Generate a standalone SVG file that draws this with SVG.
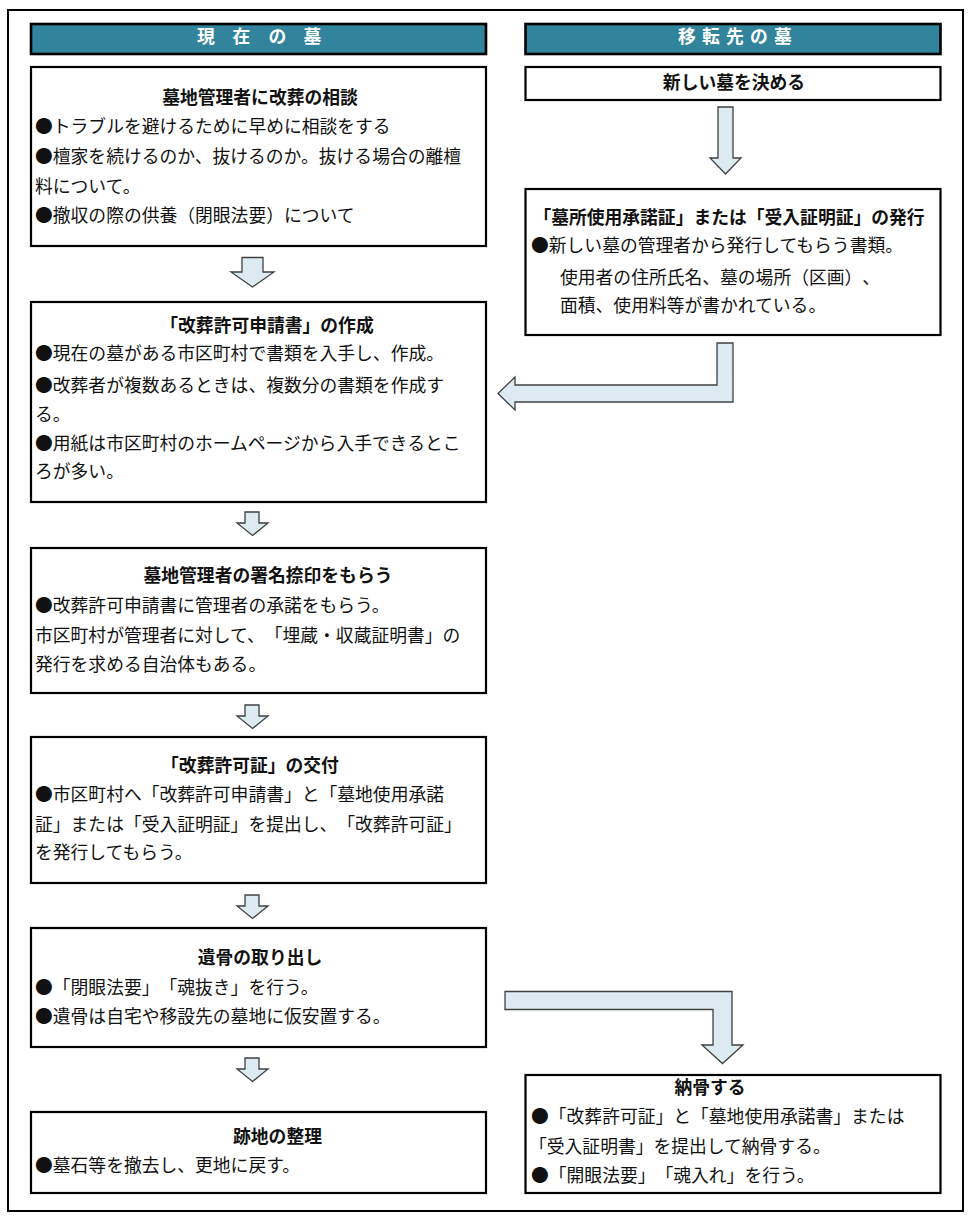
<svg xmlns="http://www.w3.org/2000/svg" width="971" height="1221" viewBox="0 0 971 1221">
<style>
text{font-family:"Noto Sans CJK JP","Noto Sans CJK SC",sans-serif;font-size:17.8px;fill:#111;text-spacing-trim:space-all}
.t{font-weight:bold;text-anchor:middle}
.h{font-weight:bold;fill:#fff;text-anchor:middle}
.box{fill:#fff;stroke:#000;stroke-width:2.2}
.hdr{fill:#31849B;stroke:#000;stroke-width:2.6}
.arr{fill:#DCEBF2;stroke:#404040;stroke-width:1.3;stroke-linejoin:miter}
</style>
<rect x="0" y="0" width="971" height="1221" fill="#fff"/>
<rect x="8" y="10" width="955" height="1201" fill="none" stroke="#000" stroke-width="2"/>

<g id="header-current">
<rect class="hdr" x="31" y="24" width="455" height="30"/>
<text class="h" x="206 241.5 277.5 312.5" y="42.5">現在の墓</text>
</g>
<g id="header-new">
<rect class="hdr" x="525.5" y="24" width="415" height="30"/>
<text class="h" x="687 711 735 759 783" y="42.5">移転先の墓</text>
</g>

<g id="connectors">
<path class="arr" d="M242,257.5 H263 V272 H274 L252.5,287 L231,272 H242 Z"/>
<path class="arr" d="M245,512 H259 V523 H268 L252.5,535.5 L237,523 H245 Z"/>
<path class="arr" d="M245,705 H259 V716 H268 L252.5,728.5 L237,716 H245 Z"/>
<path class="arr" d="M245,895 H259 V906 H268 L252.5,918.5 L237,906 H245 Z"/>
<path class="arr" d="M245,1058 H259 V1069 H268 L252.5,1081.5 L237,1069 H245 Z"/>
<path class="arr" d="M718,107 H733 V158 H741 L725.5,174 L710,158 H718 Z"/>
<path class="arr" d="M717,343 H733 V402 H515 V410 L498,393.5 L515,377 V385 H717 Z"/>
<path class="arr" d="M505,991.5 H732 V1045 H743 L722.5,1063.5 L702,1045 H713 V1009.5 H505 Z"/>
</g>

<g id="node-consult">
<rect class="box" x="31" y="67" width="455" height="179"/>
<text class="t" x="260" y="103.5">墓地管理者に改葬の相談</text>
<text x="35" y="133">●トラブルを避けるために早めに相談をする</text>
<text x="35" y="163">●檀家を続けるのか、抜けるのか。抜ける場合の離檀</text>
<text x="35" y="193">料について。</text>
<text x="35" y="222">●撤収の際の供養（閉眼法要）について</text>
</g>

<g id="node-application">
<rect class="box" x="31" y="302" width="455" height="200"/>
<text class="t" x="267" y="332">「改葬許可申請書」の作成</text>
<text x="35" y="360">●現在の墓がある市区町村で書類を入手し、作成。</text>
<text x="35" y="392">●改葬者が複数あるときは、複数分の書類を作成す</text>
<text x="35" y="421">る。</text>
<text x="35" y="450">●用紙は市区町村のホームページから入手できるとこ</text>
<text x="35" y="478">ろが多い。</text>
</g>

<g id="node-seal">
<rect class="box" x="31" y="548" width="455" height="145"/>
<text class="t" x="268" y="582">墓地管理者の署名捺印をもらう</text>
<text x="35" y="612">●改葬許可申請書に管理者の承諾をもらう。</text>
<text x="35" y="642">市区町村が管理者に対して、「埋蔵・収蔵証明書」の</text>
<text x="35" y="671">発行を求める自治体もある。</text>
</g>

<g id="node-permit">
<rect class="box" x="31" y="737" width="455" height="146"/>
<text class="t" x="250" y="772">「改葬許可証」の交付</text>
<text x="35" y="801">●市区町村へ「改葬許可申請書」と「墓地使用承諾</text>
<text x="35" y="831">証」または「受入証明証」を提出し、「改葬許可証」</text>
<text x="35" y="859">を発行してもらう。</text>
</g>

<g id="node-remove">
<rect class="box" x="31" y="928" width="455" height="119"/>
<text class="t" x="260" y="964">遺骨の取り出し</text>
<text x="35" y="994">●「閉眼法要」「魂抜き」を行う。</text>
<text x="35" y="1023">●遺骨は自宅や移設先の墓地に仮安置する。</text>
</g>

<g id="node-cleanup">
<rect class="box" x="31" y="1112" width="455" height="81"/>
<text class="t" x="277.5" y="1143">跡地の整理</text>
<text x="35" y="1172">●墓石等を撤去し、更地に戻す。</text>
</g>

<g id="node-decide">
<rect class="box" x="525.5" y="67" width="415" height="33"/>
<text class="t" x="734" y="88.5">新しい墓を決める</text>
</g>

<g id="node-certificate">
<rect class="box" x="525.5" y="189" width="415" height="146"/>
<text class="t" x="729" y="223.5">「墓所使用承諾証」または「受入証明証」の発行</text>
<text x="531" y="252">●新しい墓の管理者から発行してもらう書類。</text>
<text x="560" y="283.5">使用者の住所氏名、墓の場所（区画）、</text>
<text x="560" y="312">面積、使用料等が書かれている。</text>
</g>

<g id="node-inter">
<rect class="box" x="525.5" y="1075" width="415" height="118"/>
<text class="t" x="710" y="1094">納骨する</text>
<text x="531" y="1122.5">●「改葬許可証」と「墓地使用承諾書」または</text>
<text x="529" y="1153">「受入証明書」を提出して納骨する。</text>
<text x="531" y="1182">●「開眼法要」「魂入れ」を行う。</text>
</g>
</svg>
